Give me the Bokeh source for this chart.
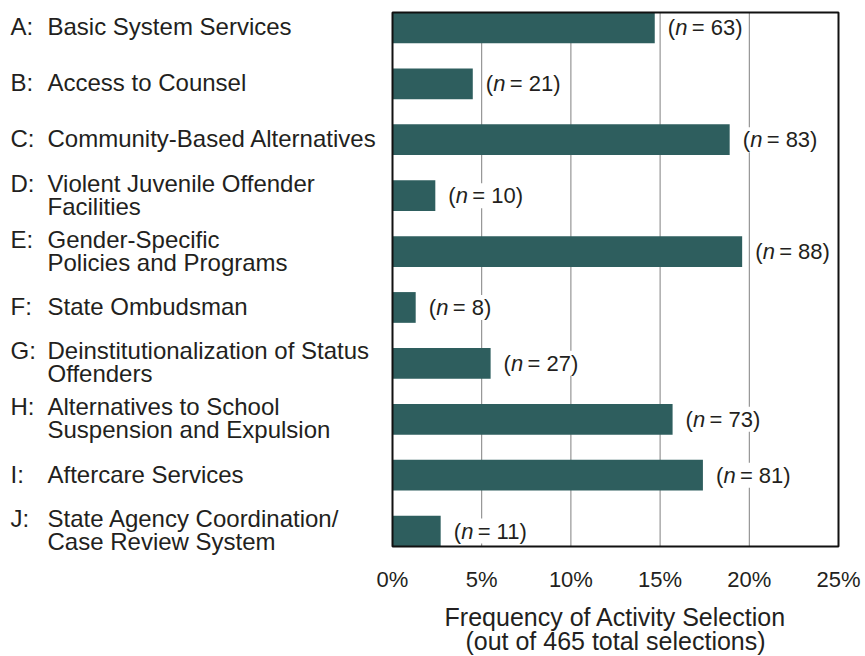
from bokeh.plotting import figure
from bokeh.models import ColumnDataSource, LabelSet, Range1d
from bokeh.core.properties import value
from bokeh.embed import file_html
from bokeh.resources import INLINE

# ---- data ----
letters = ["A:", "B:", "C:", "D:", "E:", "F:", "G:", "H:", "I:", "J:"]
names = [
    "Basic System Services",
    "Access to Counsel",
    "Community-Based Alternatives",
    "Violent Juvenile Offender\nFacilities",
    "Gender-Specific\nPolicies and Programs",
    "State Ombudsman",
    "Deinstitutionalization of Status\nOffenders",
    "Alternatives to School\nSuspension and Expulsion",
    "Aftercare Services",
    "State Agency Coordination/\nCase Review System",
]
counts = [63, 21, 83, 10, 88, 8, 27, 73, 81, 11]
shares = [14.7, 4.5, 18.9, 2.4, 19.6, 1.3, 5.5, 15.7, 17.4, 2.7]  # percent
x_ticks = [0, 5, 10, 15, 20, 25]
x_tick_labels = ["0%", "5%", "10%", "15%", "20%", "25%"]
axis_title = ["Frequency of Activity Selection", "(out of 465 total selections)"]

# ---- styling / layout (pixels) ----
FONT = value("Liberation Sans")
INK = "#231f20"
BAR = "#2e5e5e"
GRID = "#808080"

W, H = 865, 656
BOX_L, BOX_R, BOX_T, BOX_B = 392, 838, 12, 546
PAD = 0.275
n = len(letters)
y_lo, y_hi = -PAD, (n - 1) + PAD
ppu_y = (BOX_B - BOX_T) / (y_hi - y_lo)
ppu_x = (BOX_R - BOX_L) / (x_ticks[-1] - x_ticks[0])
y_top = y_lo - BOX_T / ppu_y
x_left = x_ticks[0] - BOX_L / ppu_x


def px_y(py):
    return y_top + py / ppu_y


def px_x(px):
    return x_left + px / ppu_x


LABEL_SIZE = "24px"
LINE_PX = 23
ys = list(range(n))

# split category labels into separate lines
line_txt, line_y, letter_y = [], [], []
for y, nm in zip(ys, names):
    parts = nm.split("\n")
    k = len(parts)
    for j, part in enumerate(parts):
        line_txt.append(part)
        line_y.append(y + ((j - (k - 1) / 2) * LINE_PX - 1) / ppu_y)
    letter_y.append(y + ((-(k - 1) / 2) * LINE_PX - 1) / ppu_y)

bars = ColumnDataSource(dict(
    y=ys, share=shares,
    paren=["(" for _ in counts],
    nn=["n" for _ in counts],
    rest=["= %d)" % c for c in counts],
    full=["(n = %d)" % c for c in counts],
))

p = figure(width=W, height=H, output_backend="svg", toolbar_location=None,
           x_range=Range1d(x_left, x_left + W / ppu_x),
           y_range=Range1d(y_top + H / ppu_y, y_top),
           min_border=0)
p.axis.visible = False
p.grid.grid_line_color = None
p.outline_line_color = None
p.background_fill_color = "white"
p.border_fill_color = "white"

# vertical grid lines inside the box
p.segment(x0=x_ticks, y0=[y_lo] * len(x_ticks), x1=x_ticks, y1=[y_hi] * len(x_ticks),
          line_color=GRID, line_width=1)

# bars
p.hbar(y="y", left=0, right="share", height=0.55, fill_color=BAR, line_color=None, source=bars)

# plot box
p.quad(left=[x_ticks[0]], right=[x_ticks[-1]], top=[y_lo], bottom=[y_hi],
       fill_color=None, line_color="#111111", line_width=2)

# category labels
p.text(x=px_x(10), y=letter_y, text=letters, text_baseline="middle", text_align="left",
       text_font=FONT, text_font_size=LABEL_SIZE, text_color=INK)
p.text(x=px_x(47), y=line_y, text=line_txt, text_baseline="middle", text_align="left",
       text_font=FONT, text_font_size=LABEL_SIZE, text_color=INK)

# tick labels
p.text(x=x_ticks, y=[px_y(579)] * len(x_ticks), text=x_tick_labels, text_baseline="middle",
       text_align="center", text_font=FONT, text_font_size="22px", text_color=INK)

# axis title
title_cx = (x_ticks[0] + x_ticks[-1]) / 2
p.text(x=[title_cx] * 2, y=[px_y(616), px_y(640)], text=axis_title, text_baseline="middle",
       text_align="center", text_font=FONT, text_font_size="25px", text_color=INK)

# (n = ..) labels next to the bars
GAP = 13
NSIZE = "22px"
p.add_layout(LabelSet(x="share", y="y", text="full", source=bars, x_offset=GAP - 2,
                      text_baseline="middle", text_font=FONT, text_font_size=NSIZE,
                      text_alpha=0.0, background_fill_color="white"))
p.add_layout(LabelSet(x="share", y="y", text="paren", source=bars, x_offset=GAP,
                      text_baseline="middle", text_font=FONT, text_font_size=NSIZE, text_color=INK))
p.add_layout(LabelSet(x="share", y="y", text="nn", source=bars, x_offset=GAP + 7.5,
                      text_baseline="middle", text_font=FONT, text_font_size=NSIZE,
                      text_font_style="italic", text_color=INK))
p.add_layout(LabelSet(x="share", y="y", text="rest", source=bars, x_offset=GAP + 24,
                      text_baseline="middle", text_font=FONT, text_font_size=NSIZE, text_color=INK))

open("out.html", "w").write(file_html(p, INLINE))
